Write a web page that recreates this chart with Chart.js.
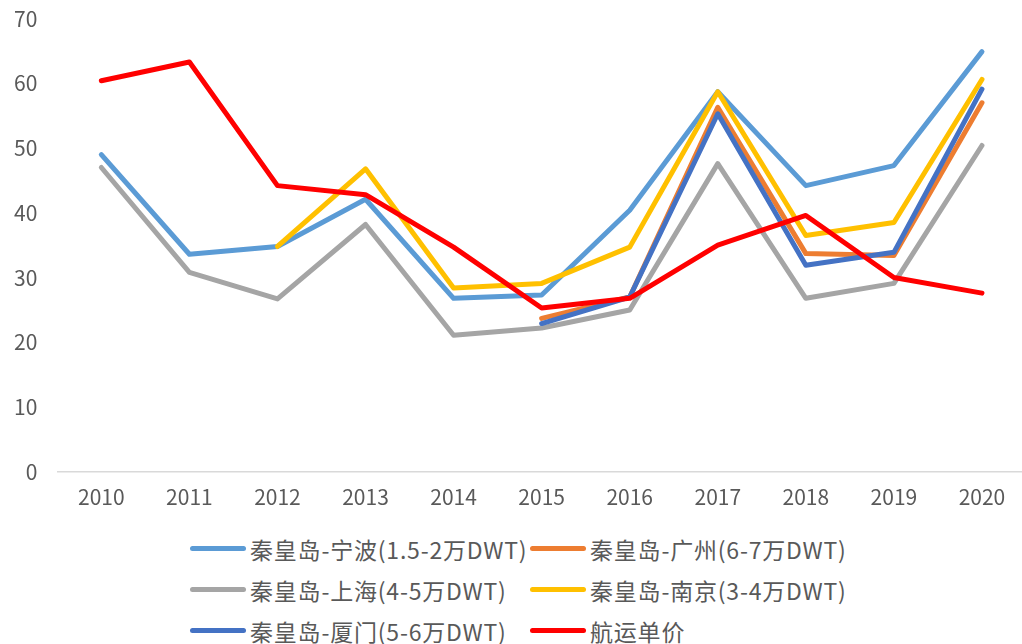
<!DOCTYPE html>
<html lang="zh">
<head>
    <meta charset="UTF-8">
    <title>秦皇岛煤炭航运价格</title>
    <script src="https://cdn.jsdelivr.net/npm/chart.js"></script>
    <style>
        html, body { margin: 0; padding: 0; background: #fff; overflow: hidden; }
        #wrap { position: relative; width: 1022px; height: 644px; overflow: hidden; }
        #chartBox { position: absolute; left: -14px; top: -14px; width: 1040px; height: 537px; }
        #legend {
            position: absolute; left: 190px; top: 528px;
            display: grid; grid-template-columns: 340px 340px; row-gap: 0;
            font-family: "Noto Sans CJK SC", sans-serif; font-size: 23px; letter-spacing: 0.8px; color: #595959;
        }
        .item { display: flex; align-items: center; height: 41px; white-space: nowrap; }
        .swatch { flex: 0 0 56px; width: 56px; height: 5px; border-radius: 3px; margin-right: 4px; }
    </style>
</head>
<body>
<div id="wrap">
    <div id="chartBox"><canvas id="lineChart"></canvas></div>
    <div id="legend"></div>
</div>
<script>
    const years = ['2010', '2011', '2012', '2013', '2014', '2015', '2016', '2017', '2018', '2019', '2020'];

    const ningbo   = [49.0, 33.6, 34.8, 42.1, 26.8, 27.3, 40.4, 58.7, 44.2, 47.3, 64.9];
    const guangzhou = [null, null, null, null, null, 23.7, 27.0, 56.3, 33.7, 33.4, 57.0];
    const shanghai = [47.0, 30.8, 26.7, 38.2, 21.1, 22.2, 25.0, 47.6, 26.8, 29.1, 50.4];
    const nanjing  = [null, null, 34.8, 46.8, 28.4, 29.1, 34.7, 58.7, 36.5, 38.5, 60.6];
    const xiamen   = [null, null, null, null, null, 22.9, 27.0, 55.3, 31.9, 33.9, 59.1];
    const freight  = [60.4, 63.3, 44.2, 42.8, 34.7, 25.3, 26.8, 35.0, 39.6, 30.0, 27.6];

    const yTicks = [0, 10, 20, 30, 40, 50, 60, 70];

    const seriesNames = ['秦皇岛-宁波(1.5-2万DWT)', '秦皇岛-广州(6-7万DWT)', '秦皇岛-上海(4-5万DWT)',
                         '秦皇岛-南京(3-4万DWT)', '秦皇岛-厦门(5-6万DWT)', '航运单价'];
    const seriesData = [ningbo, guangzhou, shanghai, nanjing, xiamen, freight];
    const colors = ['#5B9BD5', '#ED7D31', '#A5A5A5', '#FFC000', '#4472C4', '#FF0000'];

    const tickFont = { family: '"Noto Sans CJK SC", sans-serif', size: 21 };

    // excel draws later series on top, chart.js draws lower order on top
    const datasets = seriesNames.map((name, i) => ({
        label: name,
        data: seriesData[i],
        borderColor: colors[i],
        backgroundColor: colors[i],
        borderWidth: 5,
        borderCapStyle: 'round',
        borderJoinStyle: 'round',
        pointRadius: 0,
        tension: 0,
        fill: false,
        spanGaps: false,
        order: seriesNames.length - i
    }));

    const ctx = document.getElementById('lineChart').getContext('2d');
    const lineChart = new Chart(ctx, {
        type: 'line',
        data: { labels: years, datasets: datasets },
        options: {
            responsive: true,
            maintainAspectRatio: false,
            animation: false,
            layout: { padding: { left: 8, right: 0, top: 8, bottom: 0 } },
            plugins: {
                legend: { display: false },
                tooltip: { enabled: false }
            },
            scales: {
                x: {
                    offset: true,
                    grid: { display: false, drawTicks: false },
                    border: { display: true, color: '#D9D9D9', width: 1.5 },
                    ticks: { color: '#595959', padding: 13, maxRotation: 0, font: tickFont }
                },
                y: {
                    min: 0,
                    max: 70,
                    afterBuildTicks: (axis) => { axis.ticks = yTicks.map(v => ({ value: v })); },
                    grid: { display: false, drawTicks: false },
                    border: { display: false },
                    ticks: { color: '#595959', padding: 20, font: tickFont }
                }
            }
        }
    });

    const legend = document.getElementById('legend');
    seriesNames.forEach((name, i) => {
        const item = document.createElement('div');
        item.className = 'item';
        item.innerHTML = '<span class="swatch" style="background:' + colors[i] + '"></span><span>' + name + '</span>';
        legend.appendChild(item);
    });
</script>
</body>
</html>
